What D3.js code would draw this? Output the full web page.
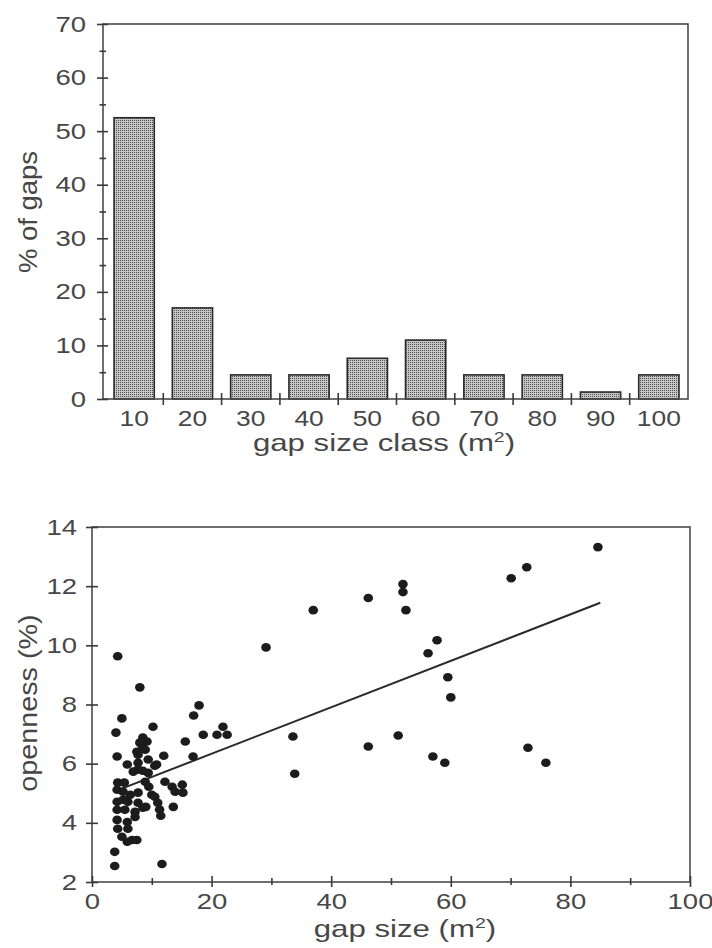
<!DOCTYPE html>
<html>
<head>
<meta charset="utf-8">
<script src="https://cdn.jsdelivr.net/npm/d3@7"></script>
<style>
  body { margin: 0; background: #fff; }
  svg text { font-family: "Liberation Sans", Arial, sans-serif; fill: #474747; }
</style>
</head>
<body>
<div id="chart"></div>
<script>
// histogram: % of gaps per size class
var sizeClasses = ["10", "20", "30", "40", "50", "60", "70", "80", "90", "100"];
var pctGaps = [52.5, 17, 4.5, 4.5, 7.6, 11, 4.5, 4.5, 1.3, 4.5];
var histTicks = [0, 10, 20, 30, 40, 50, 60, 70];
var histMinor = [5, 15, 25, 35, 45, 55, 65];

// scatter: gap size vs openness
var gapSize = [4.3, 8.0, 17.9, 29.1, 37.0, 46.2, 52.0, 52.0, 52.5, 57.7, 56.2, 59.5, 60.0, 70.1, 72.7, 84.6,
  46.2, 51.2, 57.0, 59.0, 72.9, 75.9, 33.6, 33.9, 17.0, 18.6, 20.9, 21.9, 22.6, 15.6, 16.9, 13.6,
  5.0, 10.2, 4.0, 8.5, 9.2, 8.4, 8.9, 7.5, 4.2, 7.7, 12.0, 9.4, 5.9, 7.7, 10.5, 6.9, 8.5, 9.4, 7.7,
  4.3, 5.4, 8.9, 9.5, 12.2, 13.4, 15.1, 13.9, 15.2, 4.2, 5.2, 6.4, 7.7, 10.0,
  4.2, 5.2, 6.0, 7.7, 9.0, 10.5, 11.0, 4.2, 5.5, 7.2, 8.5, 11.5, 7.2, 4.2, 5.9, 4.3, 6.0,
  5.0, 6.7, 7.5, 5.9, 3.8, 3.8, 11.7, 10.8, 11.3, 8.0];
var openness = [9.63, 8.58, 7.97, 9.93, 11.19, 11.6, 12.07, 11.8, 11.19, 10.17, 9.73, 8.92, 8.24, 12.27, 12.64, 13.32,
  6.58, 6.95, 6.24, 6.03, 6.54, 6.03, 6.92, 5.66, 7.63, 6.98, 6.98, 7.25, 6.98, 6.75, 6.24, 4.54,
  7.53, 7.25, 7.05, 6.88, 6.75, 6.61, 6.47, 6.4, 6.24, 6.3, 6.27, 6.14, 5.97, 6.03, 5.93, 5.73, 5.76, 5.69, 5.8,
  5.36, 5.36, 5.39, 5.22, 5.39, 5.22, 5.29, 5.05, 5.02, 5.12, 5.05, 4.95, 5.02, 4.95,
  4.71, 4.78, 4.71, 4.68, 4.54, 4.88, 4.68, 4.44, 4.44, 4.37, 4.51, 4.24, 4.2, 4.1, 4.03, 3.8, 3.8,
  3.53, 3.42, 3.42, 3.36, 3.02, 2.54, 2.61, 5.97, 4.45, 6.71];
var fitX = [4, 85];
var fitY = [5.08, 11.44];
var scatXTicks = [0, 20, 40, 60, 80, 100];
var scatXMinor = [10, 30, 50, 70, 90];
var scatYTicks = [2, 4, 6, 8, 10, 12, 14];

var W = 712, H = 948;
var ink = "#3a3a3a";

var svg = d3.select("#chart").append("svg")
  .attr("width", W)
  .attr("height", H);

// stippled bar fill
var pat = svg.append("defs").append("pattern")
  .attr("id", "stipple")
  .attr("width", 2).attr("height", 2)
  .attr("patternUnits", "userSpaceOnUse");
pat.append("rect").attr("width", 2).attr("height", 2).attr("fill", "#c6c6c6");
pat.append("rect").attr("width", 1).attr("height", 1).attr("fill", "#505050");

// text in the scan is wider than Arial, stretch it sideways
function stretch(sel, k) {
  sel.each(function() {
    var t = d3.select(this);
    var x = +t.attr("x") || 0;
    t.attr("x", x / k).attr("transform", "scale(" + k + ",1)");
  });
}

function styleAxis(g, fs) {
  g.attr("font-size", fs).attr("font-family", null).attr("color", ink);
  g.select(".domain").remove();
  g.selectAll("line").attr("stroke-width", 1.6);
}

// ---------- histogram ----------
var hL = 103, hR = 688;
var xH = d3.scaleBand().domain(sizeClasses).range([105, 688]).paddingInner(0.31).paddingOuter(0.155);
var yH = d3.scaleLinear().domain([0, 70]).range([399, 24]);

svg.selectAll(".bar")
  .data(pctGaps)
  .enter()
  .append("rect")
  .attr("class", "bar")
  .attr("x", function(d, i) { return xH(sizeClasses[i]); })
  .attr("y", function(d) { return yH(d); })
  .attr("width", xH.bandwidth())
  .attr("height", function(d) { return yH(0) - yH(d); })
  .attr("fill", "url(#stipple)")
  .attr("stroke", "#2a2a2a")
  .attr("stroke-width", 1.6);

svg.append("rect")
  .attr("x", hL).attr("y", yH(70))
  .attr("width", hR - hL).attr("height", yH(0) - yH(70))
  .attr("fill", "none").attr("stroke", "#4a4a4a").attr("stroke-width", 1.6);

var gy = svg.append("g").attr("transform", "translate(" + hL + ",0)")
  .call(d3.axisLeft(yH).tickValues(histTicks).tickSize(6).tickPadding(11));
styleAxis(gy, 22);
stretch(gy.selectAll("text"), 1.25);
styleAxis(svg.append("g").attr("transform", "translate(" + hL + ",0)")
  .call(d3.axisRight(yH).tickValues(histTicks).tickSize(5).tickFormat("")), 22);
styleAxis(svg.append("g").attr("transform", "translate(" + hL + ",0)")
  .call(d3.axisLeft(yH).tickValues(histMinor).tickSize(3.5).tickFormat("")), 22);
styleAxis(svg.append("g").attr("transform", "translate(" + hL + ",0)")
  .call(d3.axisRight(yH).tickValues(histMinor).tickSize(3).tickFormat("")), 22);

var gx = svg.append("g").attr("transform", "translate(0," + yH(0) + ")")
  .call(d3.axisBottom(xH).tickSize(0).tickPadding(11));
styleAxis(gx, 22);
stretch(gx.selectAll("text"), 1.2);

// class boundary ticks
var gapW = xH.step() * xH.paddingInner() / 2;
svg.selectAll(".btick")
  .data(sizeClasses.slice(1))
  .enter()
  .append("line")
  .attr("x1", function(d) { return xH(d) - gapW; })
  .attr("x2", function(d) { return xH(d) - gapW; })
  .attr("y1", yH(0) - 6).attr("y2", yH(0) + 6)
  .attr("stroke", ink).attr("stroke-width", 1.6);

var hxl = svg.append("g").attr("transform", "translate(384,451)")
  .append("text").attr("text-anchor", "middle").attr("font-size", 24)
  .attr("transform", "scale(1.3,1)");
hxl.append("tspan").text("gap size class (m");
hxl.append("tspan").attr("font-size", 15).attr("dy", -9).text("2");
hxl.append("tspan").attr("dy", 9).text(")");

svg.append("g").attr("transform", "translate(37,212) rotate(-90)")
  .append("text").attr("text-anchor", "middle").attr("font-size", 25)
  .attr("transform", "scale(1.1,1)")
  .text("% of gaps");

// ---------- scatter ----------
var xS = d3.scaleLinear().domain([0, 100]).range([92, 690]);
var yS = d3.scaleLinear().domain([2, 14]).range([882, 527]);

svg.append("rect")
  .attr("x", xS(0)).attr("y", yS(14))
  .attr("width", xS(100) - xS(0)).attr("height", yS(2) - yS(14))
  .attr("fill", "none").attr("stroke", "#4a4a4a").attr("stroke-width", 1.6);

var sy = svg.append("g").attr("transform", "translate(" + xS(0) + ",0)")
  .call(d3.axisLeft(yS).tickValues(scatYTicks).tickSize(6).tickPadding(9));
styleAxis(sy, 22);
stretch(sy.selectAll("text"), 1.25);
styleAxis(svg.append("g").attr("transform", "translate(" + xS(0) + ",0)")
  .call(d3.axisRight(yS).tickValues(scatYTicks).tickSize(6).tickFormat("")), 22);

var sx = svg.append("g").attr("transform", "translate(0," + yS(2) + ")")
  .call(d3.axisBottom(xS).tickValues(scatXTicks).tickSize(5).tickPadding(6));
styleAxis(sx, 22);
stretch(sx.selectAll("text"), 1.25);
styleAxis(svg.append("g").attr("transform", "translate(0," + yS(2) + ")")
  .call(d3.axisTop(xS).tickValues(scatXTicks).tickSize(6).tickFormat("")), 22);
styleAxis(svg.append("g").attr("transform", "translate(0," + yS(2) + ")")
  .call(d3.axisBottom(xS).tickValues(scatXMinor).tickSize(3).tickFormat("")), 22);
styleAxis(svg.append("g").attr("transform", "translate(0," + yS(2) + ")")
  .call(d3.axisTop(xS).tickValues(scatXMinor).tickSize(4).tickFormat("")), 22);

var fit = fitX.map(function(d, i) { return [d, fitY[i]]; });
svg.append("path")
  .datum(fit)
  .attr("d", d3.line().x(function(d) { return xS(d[0]); }).y(function(d) { return yS(d[1]); }))
  .attr("fill", "none").attr("stroke", "#2a2a2a").attr("stroke-width", 2);

svg.selectAll(".dot")
  .data(gapSize)
  .enter()
  .append("ellipse")
  .attr("class", "dot")
  .attr("cx", function(d) { return xS(d); })
  .attr("cy", function(d, i) { return yS(openness[i]); })
  .attr("rx", 4.8)
  .attr("ry", 4.3)
  .attr("fill", "#1c1c1c");

var sxl = svg.append("g").attr("transform", "translate(405,937)")
  .append("text").attr("text-anchor", "middle").attr("font-size", 24)
  .attr("transform", "scale(1.3,1)");
sxl.append("tspan").text("gap size (m");
sxl.append("tspan").attr("font-size", 15).attr("dy", -9).text("2");
sxl.append("tspan").attr("dy", 9).text(")");

svg.append("g").attr("transform", "translate(37,703) rotate(-90)")
  .append("text").attr("text-anchor", "middle").attr("font-size", 25)
  .attr("transform", "scale(1.15,1)")
  .text("openness (%)");
</script>
</body>
</html>
